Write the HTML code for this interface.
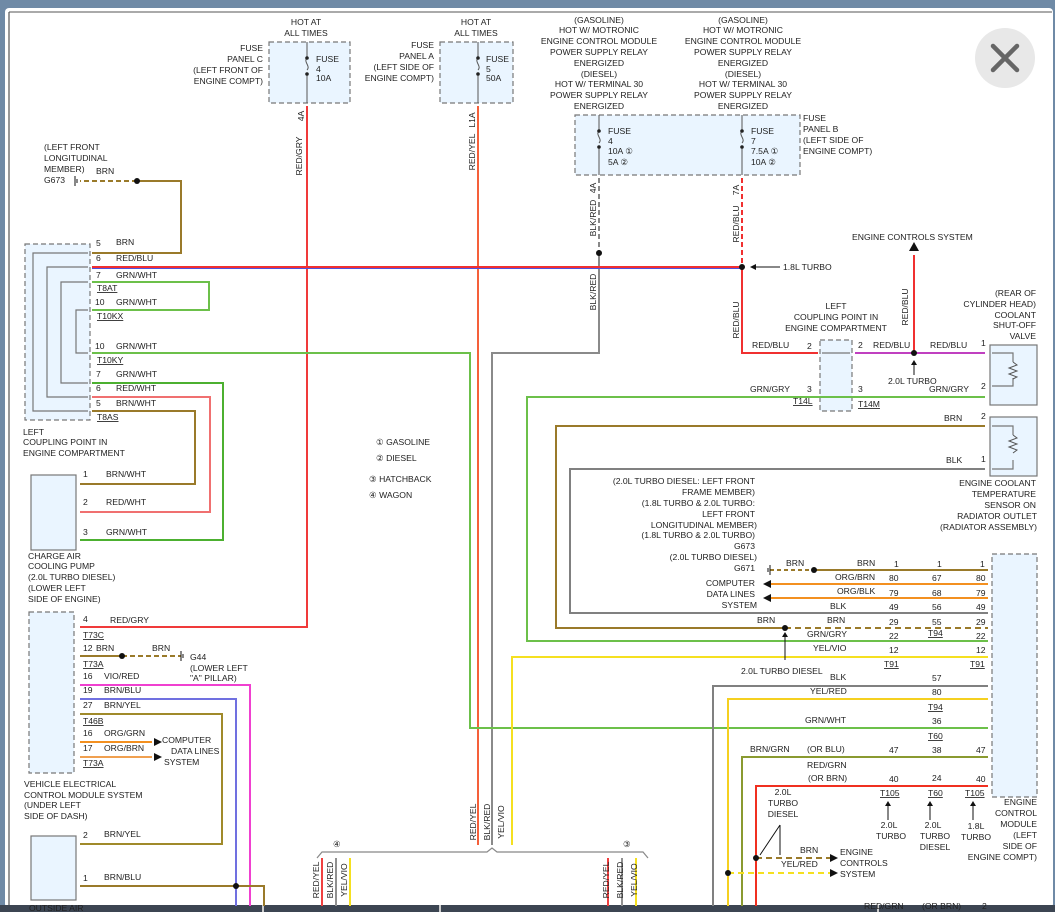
<!DOCTYPE html>
<html><head><meta charset="utf-8"><style>
html,body{margin:0;padding:0;background:#fff;}
svg{display:block;font-family:"Liberation Sans",sans-serif;font-size:8.6px;}
</style></head><body>
<svg width="1055" height="912" viewBox="0 0 1055 912" xmlns="http://www.w3.org/2000/svg">
<rect x="0" y="0" width="1055" height="912" fill="#6f8aa6"/>
<rect x="5" y="8" width="1048" height="900" fill="#fff" rx="4"/>
<line x1="9" y1="12" x2="9" y2="906" stroke="#555" stroke-width="1.2"/>
<line x1="9" y1="12" x2="1052" y2="12" stroke="#555" stroke-width="1"/>
<rect x="0" y="905" width="1055" height="7" fill="#3c4552"/>
<rect x="262" y="905" width="2" height="7" fill="#ccc"/><rect x="439" y="905" width="2" height="7" fill="#ccc"/><rect x="877" y="905" width="2" height="7" fill="#ccc"/>

<g fill="#eaf5ff" stroke="#777" stroke-dasharray="5,3" stroke-width="1.2">
<rect x="269" y="42" width="81" height="61"/>
<rect x="440" y="42" width="73" height="61"/>
<rect x="575" y="115" width="225" height="60"/>
<rect x="25" y="244" width="65" height="176"/>
<rect x="820" y="340" width="32" height="71"/>
<rect x="992" y="554" width="45" height="243"/>
<rect x="29" y="612" width="45" height="161"/>
</g>
<g fill="#eaf5ff" stroke="#777" stroke-width="1.2">
<rect x="990" y="345" width="47" height="60"/>
<rect x="990" y="417" width="47" height="59"/>
<rect x="31" y="475" width="45" height="75"/>
<rect x="31" y="836" width="45" height="64"/>
</g>

<!-- fuses -->
<g stroke="#555" stroke-width="1" fill="none">
<path d="M307 42V58M307 75V103M478 42V58M478 75V103M599 115V131M599 148V175M742 115V131M742 148V175"/>
<path d="M307 58c-4 4 4 8 0 12M478 58c-4 4 4 8 0 12M599 131c-4 4 4 8 0 12M742 131c-4 4 4 8 0 12"/>
</g>
<g fill="#222"><circle cx="307" cy="58" r="1.8"/><circle cx="307" cy="74" r="1.8"/><circle cx="478" cy="58" r="1.8"/><circle cx="478" cy="74" r="1.8"/><circle cx="599" cy="131" r="1.8"/><circle cx="599" cy="147" r="1.8"/><circle cx="742" cy="131" r="1.8"/><circle cx="742" cy="147" r="1.8"/></g>

<!-- inner loops left coupling -->
<g stroke="#777" stroke-width="1.2" fill="none">
<path d="M88 253H33V411H88M88 267H47V397H88M88 282H61V383H88M88 310H76V353H88"/>
<path d="M822 353H850M822 397H850M992 353H1013V362M992 386H1013V378M992 426H1013V435M992 469H1013V460"/>
</g>
<g stroke="#555" stroke-width="1" fill="none"><path d="M1013 362l4 3-8 3 8 3-8 3 8 3-4 2M1013 435l4 3-8 3 8 3-8 3 8 3-4 3"/></g>

<!-- wires -->
<g fill="none" stroke-width="2">
<path d="M307 106V627H80" stroke="#f03a3a"/>
<path d="M478 106V845" stroke="#f5603a"/>
<path d="M599 178V253" stroke="#888" stroke-dasharray="5,3"/>
<path d="M599 253V353H492V845" stroke="#8a8a8a"/>
<path d="M742 178V267" stroke="#f03030" stroke-dasharray="5,3"/>
<path d="M92 267H742V353H818" stroke="#f03030"/>
<path d="M92 268.5H742" stroke="#5050e0" stroke-width="1"/>
<path d="M855 353H985" stroke="#c040c0"/>
<path d="M914 353V255" stroke="#f03030"/>
<path d="M985 397H527V641H988" stroke="#6cc04a"/>
<path d="M92 253H181V181H137" stroke="#9a7a2a"/>
<path d="M137 181H80" stroke="#9a7a2a" stroke-dasharray="5,3"/>
<path d="M92 282H209V310H92" stroke="#6cc04a"/>
<path d="M92 353H470V728H988" stroke="#6cc04a"/>
<path d="M92 383H223V540H80" stroke="#4cb030"/>
<path d="M92 397H210V512H80" stroke="#f07070"/>
<path d="M92 411H195V484H80" stroke="#9a7a2a"/>
<path d="M985 426H556V628H785" stroke="#9a7a2a"/>
<path d="M785 628H988" stroke="#9a7a2a" stroke-dasharray="6,4"/>
<path d="M985 469H570V613H988" stroke="#808080"/>
<path d="M814 570H988" stroke="#9a7a2a"/>
<path d="M770 570H814" stroke="#9a7a2a" stroke-dasharray="4,3"/>
<path d="M770 584H988M770 598H988" stroke="#f39020"/>
<path d="M988 657H512V845" stroke="#f5e020"/>
<path d="M988 686H713V906" stroke="#808080"/>
<path d="M988 699H728V906" stroke="#f5d020"/>
<path d="M988 757H742V906" stroke="#8a9a30"/>
<path d="M988 786H756V906" stroke="#f03020"/>
<path d="M756 858H830" stroke="#9a7a2a" stroke-dasharray="6,4"/>
<path d="M728 873H830" stroke="#f5e020" stroke-dasharray="6,4"/>
<path d="M80 656H122" stroke="#9a7a2a"/>
<path d="M122 656H181" stroke="#9a7a2a" stroke-dasharray="5,3"/>
<path d="M80 685H250V906" stroke="#f040d0"/>
<path d="M80 699H236V906" stroke="#7070e0"/>
<path d="M80 714H222V844H80" stroke="#a08a2a"/>
<path d="M80 742H152" stroke="#f39020"/>
<path d="M80 757H152" stroke="#f0a050"/>
<path d="M80 886H264V906" stroke="#9a7a2a"/>
<path d="M322 858V906M608 858V906" stroke="#f04040"/>
<path d="M336 858V906M622 858V906" stroke="#909090"/>
<path d="M350 858V906M636 858V906" stroke="#f5e020"/>
</g>
<path d="M317 858l5-6H487l5-4 5 4H643l5 6" fill="none" stroke="#888" stroke-width="1.2"/>

<!-- dots and arrows -->
<g fill="#111">
<circle cx="599" cy="253" r="3"/><circle cx="742" cy="267" r="3"/><circle cx="914" cy="353" r="3"/>
<circle cx="137" cy="181" r="3"/><circle cx="814" cy="570" r="3"/><circle cx="785" cy="628" r="3"/>
<circle cx="756" cy="858" r="3"/><circle cx="728" cy="873" r="3"/><circle cx="122" cy="656" r="3"/><circle cx="236" cy="886" r="3"/>
<path d="M914 242l-5 9h10z"/>
<path d="M763 584l8-4v8zM763 598l8-4v8z"/>
<path d="M162 742l-8-4v8zM162 757l-8-4v8z"/>
<path d="M838 858l-8-4v8zM838 873l-8-4v8z"/>
<path d="M750 267l6-3v6zM914 360l-3 5h6zM785 632l-3 5h6zM888 801l-3 5h6zM930 801l-3 5h6zM973 801l-3 5h6z"/>
</g>
<g stroke="#111" stroke-width="1" fill="none">
<path d="M756 267H780M914 365V375M785 637V660M888 806V820M930 806V820M973 806V820M780 825L760 855M780 825V855"/>
<path d="M75 181v-5v10M77 179v4M181 656v-5v10M183 654v4M770 570v-5v10M768 568v4"/>
</g>

<g fill="#222">
<!-- top labels -->
<g text-anchor="middle">
<text x="306" y="25">HOT AT</text><text x="306" y="36">ALL TIMES</text>
<text x="476" y="25">HOT AT</text><text x="476" y="36">ALL TIMES</text>
<text x="599" y="23">(GASOLINE)</text><text x="599" y="33">HOT W/ MOTRONIC</text><text x="599" y="44">ENGINE CONTROL MODULE</text><text x="599" y="55">POWER SUPPLY RELAY</text><text x="599" y="66">ENERGIZED</text><text x="599" y="77">(DIESEL)</text><text x="599" y="87">HOT W/ TERMINAL 30</text><text x="599" y="98">POWER SUPPLY RELAY</text><text x="599" y="109">ENERGIZED</text>
<text x="743" y="23">(GASOLINE)</text><text x="743" y="33">HOT W/ MOTRONIC</text><text x="743" y="44">ENGINE CONTROL MODULE</text><text x="743" y="55">POWER SUPPLY RELAY</text><text x="743" y="66">ENERGIZED</text><text x="743" y="77">(DIESEL)</text><text x="743" y="87">HOT W/ TERMINAL 30</text><text x="743" y="98">POWER SUPPLY RELAY</text><text x="743" y="109">ENERGIZED</text>
<text x="836" y="309">LEFT</text><text x="836" y="320">COUPLING POINT IN</text><text x="836" y="331">ENGINE COMPARTMENT</text>
<text x="889" y="828">2.0L</text><text x="891" y="839">TURBO</text>
<text x="933" y="828">2.0L</text><text x="935" y="839">TURBO</text><text x="935" y="850">DIESEL</text>
<text x="976" y="829">1.8L</text><text x="976" y="840">TURBO</text>
<text x="783" y="795">2.0L</text><text x="783" y="806">TURBO</text><text x="783" y="817">DIESEL</text>
</g>
<g text-anchor="end">
<text x="263" y="51">FUSE</text><text x="263" y="62">PANEL C</text><text x="263" y="73">(LEFT FRONT OF</text><text x="263" y="84">ENGINE COMPT)</text>
<text x="434" y="48">FUSE</text><text x="434" y="59">PANEL A</text><text x="434" y="70">(LEFT SIDE OF</text><text x="434" y="81">ENGINE COMPT)</text>
<text x="1036" y="296">(REAR OF</text><text x="1036" y="307">CYLINDER HEAD)</text><text x="1036" y="318">COOLANT</text><text x="1036" y="328">SHUT-OFF</text><text x="1036" y="339">VALVE</text>
<text x="1036" y="486">ENGINE COOLANT</text><text x="1036" y="497">TEMPERATURE</text><text x="1036" y="508">SENSOR ON</text><text x="1037" y="519">RADIATOR OUTLET</text><text x="1037" y="530">(RADIATOR ASSEMBLY)</text>
<text x="755" y="484">(2.0L TURBO DIESEL: LEFT FRONT</text><text x="755" y="495">FRAME MEMBER)</text><text x="755" y="506">(1.8L TURBO &amp; 2.0L TURBO:</text><text x="755" y="517">LEFT FRONT</text><text x="757" y="528">LONGITUDINAL MEMBER)</text><text x="755" y="538">(1.8L TURBO &amp; 2.0L TURBO)</text><text x="755" y="549">G673</text><text x="757" y="560">(2.0L TURBO DIESEL)</text><text x="755" y="571">G671</text>
<text x="755" y="586">COMPUTER</text><text x="755" y="597">DATA LINES</text><text x="757" y="608">SYSTEM</text>
<text x="1037" y="805">ENGINE</text><text x="1037" y="816">CONTROL</text><text x="1037" y="827">MODULE</text><text x="1037" y="838">(LEFT</text><text x="1037" y="849">SIDE OF</text><text x="1037" y="860">ENGINE COMPT)</text>
</g>
<text x="316" y="62">FUSE</text><text x="316" y="72">4</text><text x="316" y="81">10A</text>
<text x="486" y="62">FUSE</text><text x="486" y="72">5</text><text x="486" y="81">50A</text>
<text x="608" y="134">FUSE</text><text x="608" y="144">4</text><text x="608" y="154">10A  ①</text><text x="608" y="165">5A  ②</text>
<text x="751" y="134">FUSE</text><text x="751" y="144">7</text><text x="751" y="154">7.5A ①</text><text x="751" y="165">10A  ②</text>
<text x="803" y="121">FUSE</text><text x="803" y="132">PANEL B</text><text x="803" y="143">(LEFT SIDE OF</text><text x="803" y="154">ENGINE COMPT)</text>
<text x="852" y="240">ENGINE CONTROLS SYSTEM</text>
<text x="783" y="270">1.8L TURBO</text>
<text x="752" y="348">RED/BLU</text><text x="807" y="349">2</text><text x="750" y="392">GRN/GRY</text><text x="807" y="392">3</text>
<text x="793" y="404" text-decoration="underline">T14L</text>
<text x="858" y="348">2</text><text x="873" y="348">RED/BLU</text><text x="858" y="392">3</text><text x="858" y="407" text-decoration="underline">T14M</text>
<text x="930" y="348">RED/BLU</text><text x="981" y="346">1</text><text x="888" y="384">2.0L TURBO</text><text x="929" y="392">GRN/GRY</text><text x="981" y="389">2</text>
<text x="944" y="421">BRN</text><text x="981" y="419">2</text><text x="946" y="463">BLK</text><text x="981" y="462">1</text>

<text x="44" y="150">(LEFT FRONT</text><text x="44" y="161">LONGITUDINAL</text><text x="44" y="172">MEMBER)</text><text x="96" y="174">BRN</text><text x="44" y="183">G673</text>
<text x="96" y="246">5</text><text x="116" y="245">BRN</text>
<text x="96" y="261">6</text><text x="116" y="261">RED/BLU</text>
<text x="96" y="278">7</text><text x="116" y="278">GRN/WHT</text><text x="97" y="291" text-decoration="underline">T8AT</text>
<text x="95" y="305">10</text><text x="116" y="305">GRN/WHT</text><text x="97" y="319" text-decoration="underline">T10KX</text>
<text x="95" y="349">10</text><text x="116" y="349">GRN/WHT</text><text x="97" y="363" text-decoration="underline">T10KY</text>
<text x="96" y="377">7</text><text x="116" y="377">GRN/WHT</text>
<text x="96" y="391">6</text><text x="116" y="391">RED/WHT</text>
<text x="96" y="406">5</text><text x="116" y="406">BRN/WHT</text><text x="97" y="420" text-decoration="underline">T8AS</text>
<text x="23" y="435">LEFT</text><text x="23" y="445">COUPLING POINT IN</text><text x="23" y="456">ENGINE COMPARTMENT</text>
<text x="83" y="477">1</text><text x="106" y="477">BRN/WHT</text>
<text x="83" y="505">2</text><text x="106" y="505">RED/WHT</text>
<text x="83" y="535">3</text><text x="106" y="535">GRN/WHT</text>
<text x="28" y="559">CHARGE AIR</text><text x="28" y="569">COOLING PUMP</text><text x="28" y="580">(2.0L TURBO DIESEL)</text><text x="28" y="591">(LOWER LEFT</text><text x="28" y="602">SIDE OF ENGINE)</text>
<text x="83" y="622">4</text><text x="110" y="623">RED/GRY</text><text x="83" y="638" text-decoration="underline">T73C</text>
<text x="83" y="651">12</text><text x="96" y="651">BRN</text><text x="152" y="651">BRN</text><text x="83" y="667" text-decoration="underline">T73A</text>
<text x="190" y="660">G44</text><text x="190" y="671">(LOWER LEFT</text><text x="190" y="681">"A" PILLAR)</text>
<text x="83" y="679">16</text><text x="104" y="679">VIO/RED</text>
<text x="83" y="693">19</text><text x="104" y="693">BRN/BLU</text>
<text x="83" y="708">27</text><text x="104" y="708">BRN/YEL</text><text x="83" y="724" text-decoration="underline">T46B</text>
<text x="83" y="736">16</text><text x="104" y="736">ORG/GRN</text>
<text x="83" y="751">17</text><text x="104" y="751">ORG/BRN</text><text x="83" y="766" text-decoration="underline">T73A</text>
<text x="162" y="743">COMPUTER</text><text x="171" y="754">DATA LINES</text><text x="164" y="765">SYSTEM</text>
<text x="24" y="787">VEHICLE ELECTRICAL</text><text x="24" y="798">CONTROL MODULE SYSTEM</text><text x="24" y="808">(UNDER LEFT</text><text x="24" y="819">SIDE OF DASH)</text>
<text x="83" y="838">2</text><text x="104" y="837">BRN/YEL</text>
<text x="83" y="881">1</text><text x="104" y="880">BRN/BLU</text>
<text x="29" y="911">OUTSIDE AIR</text>

<text x="376" y="445">① GASOLINE</text><text x="376" y="461">② DIESEL</text><text x="369" y="482">③ HATCHBACK</text><text x="369" y="498">④ WAGON</text>

<text x="857" y="566">BRN</text><text x="786" y="566">BRN</text><text x="894" y="567">1</text><text x="937" y="567">1</text><text x="980" y="567">1</text>
<text x="835" y="580">ORG/BRN</text><text x="889" y="581">80</text><text x="932" y="581">67</text><text x="976" y="581">80</text>
<text x="837" y="594">ORG/BLK</text><text x="889" y="596">79</text><text x="932" y="596">68</text><text x="976" y="596">79</text>
<text x="830" y="609">BLK</text><text x="889" y="610">49</text><text x="932" y="610">56</text><text x="976" y="610">49</text>
<text x="757" y="623">BRN</text><text x="827" y="623">BRN</text><text x="889" y="625">29</text><text x="932" y="625">55</text><text x="976" y="625">29</text>
<text x="807" y="637">GRN/GRY</text><text x="889" y="639">22</text><text x="928" y="636" text-decoration="underline">T94</text><text x="976" y="639">22</text>
<text x="813" y="651">YEL/VIO</text><text x="889" y="653">12</text><text x="976" y="653">12</text>
<text x="884" y="667" text-decoration="underline">T91</text><text x="970" y="667" text-decoration="underline">T91</text>
<text x="741" y="674">2.0L TURBO DIESEL</text>
<text x="830" y="680">BLK</text><text x="932" y="681">57</text>
<text x="810" y="694">YEL/RED</text><text x="932" y="695">80</text><text x="928" y="710" text-decoration="underline">T94</text>
<text x="805" y="723">GRN/WHT</text><text x="932" y="724">36</text><text x="928" y="739" text-decoration="underline">T60</text>
<text x="750" y="752">BRN/GRN</text><text x="807" y="752">(OR BLU)</text><text x="889" y="753">47</text><text x="932" y="753">38</text><text x="976" y="753">47</text>
<text x="807" y="768">RED/GRN</text><text x="808" y="781">(OR BRN)</text><text x="889" y="782">40</text><text x="932" y="781">24</text><text x="976" y="782">40</text>
<text x="880" y="796" text-decoration="underline">T105</text><text x="928" y="796" text-decoration="underline">T60</text><text x="965" y="796" text-decoration="underline">T105</text>
<text x="800" y="853">BRN</text><text x="781" y="867">YEL/RED</text>
<text x="840" y="855">ENGINE</text><text x="840" y="866">CONTROLS</text><text x="840" y="877">SYSTEM</text>
<text x="864" y="909">RED/GRN</text><text x="922" y="909">(OR BRN)</text><text x="982" y="909">2</text>
<text x="333" y="847">④</text><text x="623" y="847">③</text>

<g text-anchor="middle">
<text transform="translate(304,116) rotate(-90)">4A</text>
<text transform="translate(302,156) rotate(-90)">RED/GRY</text>
<text transform="translate(475,120) rotate(-90)">L1A</text>
<text transform="translate(475,152) rotate(-90)">RED/YEL</text>
<text transform="translate(596,188) rotate(-90)">4A</text>
<text transform="translate(596,218) rotate(-90)">BLK/RED</text>
<text transform="translate(596,292) rotate(-90)">BLK/RED</text>
<text transform="translate(739,190) rotate(-90)">7A</text>
<text transform="translate(739,224) rotate(-90)">RED/BLU</text>
<text transform="translate(739,320) rotate(-90)">RED/BLU</text>
<text transform="translate(908,307) rotate(-90)">RED/BLU</text>
<text transform="translate(476,822) rotate(-90)">RED/YEL</text>
<text transform="translate(490,822) rotate(-90)">BLK/RED</text>
<text transform="translate(504,822) rotate(-90)">YEL/VIO</text>
<text transform="translate(319,880) rotate(-90)">RED/YEL</text>
<text transform="translate(333,880) rotate(-90)">BLK/RED</text>
<text transform="translate(347,880) rotate(-90)">YEL/VIO</text>
<text transform="translate(609,880) rotate(-90)">RED/YEL</text>
<text transform="translate(623,880) rotate(-90)">BLK/RED</text>
<text transform="translate(637,880) rotate(-90)">YEL/VIO</text>
</g>
</g>

<circle cx="1005" cy="58" r="30" fill="#e8e8e8"/>
<path d="M993 46L1017 70M1017 46L993 70" stroke="#666" stroke-width="4.5" stroke-linecap="round"/>
</svg>
</body></html>
